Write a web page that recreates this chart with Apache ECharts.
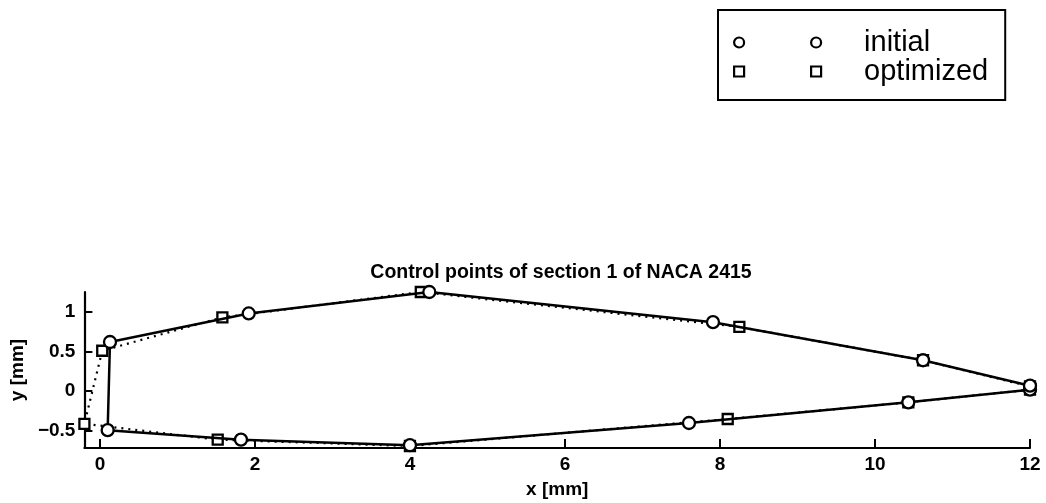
<!DOCTYPE html>
<html>
<head>
<meta charset="utf-8">
<script src="https://cdn.jsdelivr.net/npm/echarts@6/dist/echarts.min.js"></script>
<style>
html,body{margin:0;padding:0;background:#fff;}
#chart{width:1046px;height:503px;}
</style>
</head>
<body>
<div id="chart"></div>
<script>
// ---- data ----
const titleText = 'Control points of section 1 of NACA 2415';
const initialX   = [12.0, 10.43, 7.60, 4.00, 1.82, 0.10, 0.13, 1.92, 4.25, 7.91, 10.62, 12.0];
const initialY   = [0.02, -0.14, -0.40, -0.68, -0.61, -0.49, 0.62, 0.98, 1.25, 0.87, 0.39, 0.07];
const optimizedX = [12.0, 10.43, 8.10, 4.00, 1.52, -0.20, 0.03, 1.58, 4.14, 8.25, 10.62, 12.0];
const optimizedY = [0.02, -0.14, -0.35, -0.69, -0.61, -0.41, 0.51, 0.93, 1.25, 0.81, 0.39, 0.06];
const xTicks = [0, 2, 4, 6, 8, 10, 12];
const yTicks = [-0.5, 0, 0.5, 1];
const xRange = [-0.2, 12];
const yRange = [-0.715, 1.25];

const pairs = (xs, ys) => xs.map((x, i) => [x, ys[i]]);
const fmt = v => (v < 0 ? '\u2212' + Math.abs(v) : String(v));

const chart = echarts.init(document.getElementById('chart'), null, {renderer: 'canvas'});
const axisFont = {fontFamily: 'Liberation Sans', fontWeight: 'bold', fontSize: 19, color: '#000'};

chart.setOption({
  backgroundColor: '#fff',
  animation: false,
  title: {
    text: titleText,
    left: 556, top: 258, textAlign: 'center',
    textStyle: {fontFamily: 'Liberation Sans', fontWeight: 'bold', fontSize: 19.5, color: '#000'}
  },
  legend: {
    orient: 'vertical',
    left: 718, top: 10,
    padding: [18, 17, 14, 15],
    itemGap: 0,
    itemWidth: 87, itemHeight: 10,
    borderColor: '#000', borderWidth: 2,
    selectedMode: false,
    textStyle: {fontFamily: 'Liberation Sans', fontSize: 29, color: '#000', lineHeight: 28, padding: [0, 0, 0, 38]},
    data: [
      {name: 'initial',
       icon: 'path://M0,5A5,5,0,1,1,10,5A5,5,0,1,1,0,5Z M77,5A5,5,0,1,1,87,5A5,5,0,1,1,77,5Z',
       itemStyle: {color: '#fff', borderColor: '#000', borderWidth: 2.2}},
      {name: 'optimized',
       icon: 'path://M0,0H10V10H0Z M77,0H87V10H77Z',
       itemStyle: {color: '#fff', borderColor: '#000', borderWidth: 2.2}}
    ]
  },
  grid: {left: 83, right: 16, top: 292, bottom: 55, containLabel: false},
  xAxis: {
    type: 'value', min: xRange[0], max: xRange[1],
    name: 'x [mm]', nameLocation: 'middle', nameGap: 32,
    nameTextStyle: axisFont,
    axisLine: {show: true, onZero: false, lineStyle: {color: '#000', width: 2.2}},
    axisTick: {show: true, inside: true, length: 9, lineStyle: {color: '#000', width: 2}, customValues: xTicks},
    axisLabel: {show: true, margin: 7, ...axisFont, customValues: xTicks, formatter: fmt},
    splitLine: {show: false}
  },
  yAxis: {
    type: 'value', min: yRange[0], max: yRange[1],
    name: 'y [mm]', nameLocation: 'middle', nameGap: 54, nameRotate: 90,
    nameTextStyle: axisFont,
    axisLine: {show: true, onZero: false, lineStyle: {color: '#000', width: 2.2}},
    axisTick: {show: true, inside: true, length: 8, lineStyle: {color: '#000', width: 2}, customValues: yTicks},
    axisLabel: {show: true, margin: 9, ...axisFont, customValues: yTicks, formatter: fmt},
    splitLine: {show: false}
  },
  series: [
    {
      name: 'optimized', type: 'line', z: 2,
      data: pairs(optimizedX, optimizedY),
      symbol: 'rect', symbolSize: 10,
      itemStyle: {color: '#fff', borderColor: '#000', borderWidth: 2.3},
      lineStyle: {color: '#000', width: 2.2, type: [2, 5]}
    },
    {
      name: 'initial', type: 'line', z: 3,
      data: pairs(initialX, initialY),
      symbol: 'circle', symbolSize: 12,
      itemStyle: {color: '#fff', borderColor: '#000', borderWidth: 2.3},
      lineStyle: {color: '#000', width: 2.5, type: 'solid'}
    }
  ]
});
</script>
</body>
</html>
